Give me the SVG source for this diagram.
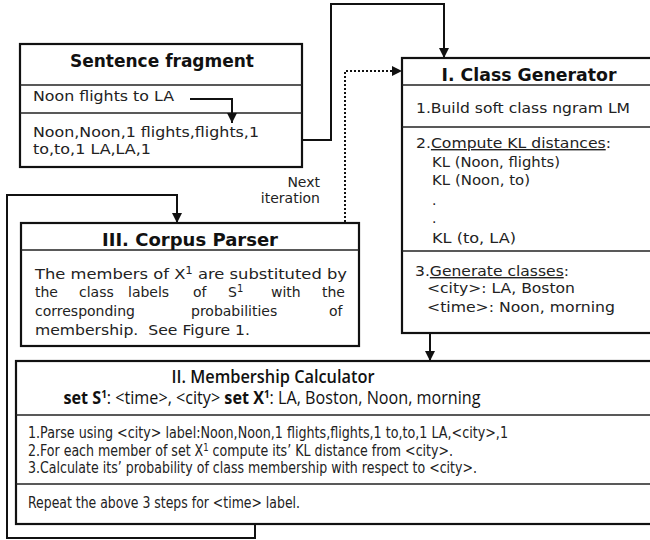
<svg xmlns="http://www.w3.org/2000/svg" width="650" height="540" viewBox="0 0 650 540">
<defs>
<marker id="ah" markerUnits="userSpaceOnUse" markerWidth="10" markerHeight="10" viewBox="0 0 10 10" refX="10" refY="5" orient="auto">
<path d="M0,0 L10,5 L0,10 z" fill="#111"/>
</marker>
<style>
.box{fill:#fff;stroke:#111;stroke-width:2.2}
.div{stroke:#222;stroke-width:1.4;fill:none}
.con{fill:none;stroke:#111;stroke-width:2}
.dot{fill:none;stroke:#111;stroke-width:2;stroke-dasharray:2 2}
.v{font-family:"DejaVu Sans",Verdana,sans-serif;font-size:14px;fill:#222}
.vt{font-family:"DejaVu Sans",Verdana,sans-serif;font-size:17px;font-weight:bold;fill:#111;text-anchor:middle}
.t{font-family:"DejaVu Sans Condensed","DejaVu Sans",Tahoma,sans-serif;font-size:15px;fill:#222}
.tt{font-family:"Open Sans","DejaVu Sans",Tahoma,sans-serif;font-size:18px;fill:#111;text-anchor:middle}
.u{text-decoration:underline}
</style>
</defs>
<rect width="650" height="540" fill="#fff"/>

<g id="sentence-fragment">
<rect class="box" x="20" y="44" width="282" height="123"/>
<line class="div" x1="20" y1="85" x2="302" y2="85"/>
<line class="div" x1="20" y1="113" x2="302" y2="113"/>
<text class="vt" x="162" y="67" textLength="184" lengthAdjust="spacingAndGlyphs">Sentence fragment</text>
<text class="v" x="33" y="101" textLength="141" lengthAdjust="spacingAndGlyphs">Noon flights to LA</text>
<text class="v" x="33" y="137" textLength="226" lengthAdjust="spacingAndGlyphs">Noon,Noon,1 flights,flights,1</text>
<text class="v" x="33" y="154" textLength="118" lengthAdjust="spacingAndGlyphs">to,to,1 LA,LA,1</text>
</g>

<g id="class-generator">
<rect class="box" x="402" y="58" width="260" height="275"/>
<line class="div" x1="402" y1="85" x2="660" y2="85"/>
<line class="div" x1="402" y1="127" x2="660" y2="127"/>
<line class="div" x1="402" y1="251" x2="660" y2="251"/>
<text class="vt" x="529" y="81" textLength="175" lengthAdjust="spacingAndGlyphs">I. Class Generator</text>
<text class="v" x="416" y="113" textLength="214" lengthAdjust="spacingAndGlyphs">1.Build soft class ngram LM</text>
<text class="v" x="416" y="148" textLength="195" lengthAdjust="spacingAndGlyphs">2.<tspan class="u">Compute KL distances</tspan>:</text>
<text class="v" x="432" y="167" textLength="128" lengthAdjust="spacingAndGlyphs">KL (Noon, flights)</text>
<text class="v" x="432" y="185" textLength="98" lengthAdjust="spacingAndGlyphs">KL (Noon, to)</text>
<text class="v" x="432" y="205">.</text>
<text class="v" x="432" y="223">.</text>
<text class="v" x="432" y="243" textLength="84" lengthAdjust="spacingAndGlyphs">KL (to, LA)</text>
<text class="v" x="415" y="276" textLength="154" lengthAdjust="spacingAndGlyphs">3.<tspan class="u">Generate classes</tspan>:</text>
<text class="v" x="427" y="293" textLength="148" lengthAdjust="spacingAndGlyphs">&lt;city&gt;: LA, Boston</text>
<text class="v" x="427" y="312" textLength="188" lengthAdjust="spacingAndGlyphs">&lt;time&gt;: Noon, morning</text>
</g>

<g id="corpus-parser">
<rect class="box" x="21" y="223" width="338" height="123"/>
<line class="div" x1="21" y1="250" x2="359" y2="250"/>
<text class="vt" x="190" y="246" textLength="176" lengthAdjust="spacingAndGlyphs">III. Corpus Parser</text>
<text class="v" x="35" y="279" textLength="312" lengthAdjust="spacingAndGlyphs">The members of X<tspan dy="-5" font-size="10">1</tspan><tspan dy="5"> are substituted by</tspan></text>
<text class="v" y="297"><tspan x="35">the</tspan><tspan x="79">class</tspan><tspan x="128">labels</tspan><tspan x="193">of</tspan><tspan x="228">S</tspan><tspan dy="-5" font-size="10">1</tspan><tspan x="271" dy="5">with</tspan><tspan x="322">the</tspan></text>
<text class="v" y="316"><tspan x="35">corresponding</tspan><tspan x="191">probabilities</tspan><tspan x="329">of</tspan></text>
<text class="v" x="35" y="335" textLength="215" lengthAdjust="spacingAndGlyphs" xml:space="preserve">membership.  See Figure 1.</text>
</g>

<g id="membership-calculator">
<rect class="box" x="16" y="361" width="646" height="163"/>
<line class="div" x1="16" y1="415" x2="660" y2="415"/>
<line class="div" x1="16" y1="484" x2="660" y2="484"/>
<text class="tt" x="273" y="383" font-weight="600" textLength="203" lengthAdjust="spacingAndGlyphs">II. Membership Calculator</text>
<text class="tt" x="272" y="404" textLength="417" lengthAdjust="spacingAndGlyphs"><tspan font-weight="bold">set S</tspan><tspan font-weight="bold" dy="-6" font-size="11">1</tspan><tspan dy="6">: &lt;time&gt;, &lt;city&gt; </tspan><tspan font-weight="bold">set X</tspan><tspan font-weight="bold" dy="-6" font-size="11">1</tspan><tspan dy="6">: LA, Boston, Noon, morning</tspan></text>
<text class="t" x="28" y="438" textLength="480" lengthAdjust="spacingAndGlyphs">1.Parse using &lt;city&gt; label:Noon,Noon,1 flights,flights,1 to,to,1 LA,&lt;city&gt;,1</text>
<text class="t" x="28" y="456" textLength="425" lengthAdjust="spacingAndGlyphs">2.For each member of set X<tspan dy="-5" font-size="10">1</tspan><tspan dy="5"> compute its’ KL distance from &lt;city&gt;.</tspan></text>
<text class="t" x="28" y="473" textLength="449" lengthAdjust="spacingAndGlyphs">3.Calculate its’ probability of class membership with respect to &lt;city&gt;.</text>
<text class="t" x="28" y="508" textLength="272" lengthAdjust="spacingAndGlyphs">Repeat the above 3 steps for &lt;time&gt; label.</text>
</g>

<g id="next-iteration-label">
<text class="v" x="320" y="187" text-anchor="end">Next</text>
<text class="v" x="320" y="203" text-anchor="end">iteration</text>
</g>

<g id="connectors">
<path class="con" d="M190,99 H232 V123" marker-end="url(#ah)" stroke-width="1.5"/>
<path class="con" d="M302,140 H331 V4 H444 V58" marker-end="url(#ah)"/>
<path class="dot" d="M345,222 V71 H402" marker-end="url(#ah)"/>
<path class="con" d="M430,334 V361" marker-end="url(#ah)"/>
<path class="con" d="M255,525 V538 H7 V195 H177 V223" marker-end="url(#ah)"/>
</g>
</svg>
